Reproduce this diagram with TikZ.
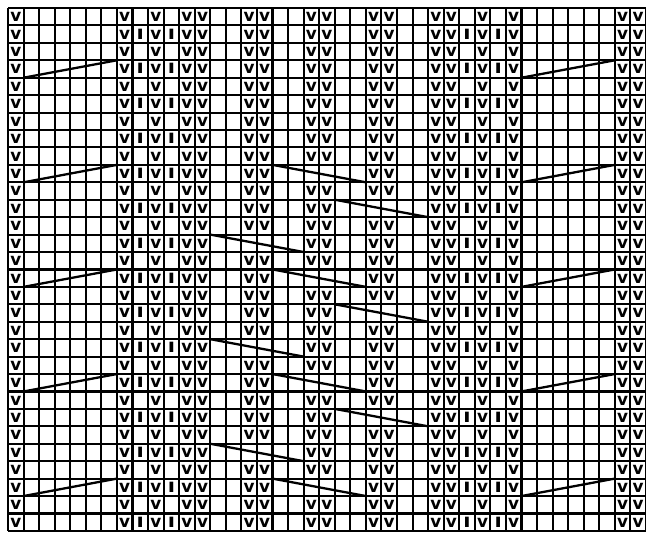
\documentclass[tikz,border=0pt]{standalone}
\usepackage{fontspec}
\setmainfont{DejaVu Sans}
\begin{document}
\begin{tikzpicture}[x=0.02cm, y=-0.02cm,
  every node/.style={font=\bfseries\fontsize{9.6}{10}\selectfont, inner sep=0pt, anchor=base},
  purl/.style={xscale=1.25, yscale=1.12},
  gridline/.style={line width=1.2pt, black},
  floatline/.style={line width=1.3pt, black}]
  \useasboundingbox (0,0) rectangle (646,534);
  \pgfmathsetmacro{\cw}{15.56}
  \pgfmathsetmacro{\rh}{17.43}
  % grid
  \foreach \c in {0,...,41}{
    \draw[gridline] ({8+\c*\cw},8) -- ({8+\c*\cw},{8+30*\rh});
  }
  \foreach \r in {0,...,30}{
    \draw[gridline] (8,{8+\r*\rh}) -- ({8+41*\cw},{8+\r*\rh});
  }
  % stitches
  \foreach \r in {1,...,30}{
    \pgfmathsetmacro{\yb}{8+\r*\rh-3.8}
    \pgfmathtruncatemacro{\pl}{mod(\r,2)==0}
    \pgfmathtruncatemacro{\skipA}{and(\r>9, mod(\r-10,6)==0)}
    \pgfmathtruncatemacro{\skipB}{and(and(\r>11,\r<25), mod(\r-12,6)==0)}
    \pgfmathtruncatemacro{\skipC}{and(and(\r>13,\r<27), mod(\r-14,6)==0)}
    \foreach \c in {1,8,10,12,13,28,29,31,33,40,41}{
      \node (s\r-\c) at ({8+(\c-0.5)*\cw},\yb) {v};
    }
    \ifnum\pl=1
      \foreach \c in {9,11,30,32}{
        \node[purl] (s\r-\c) at ({8+(\c-0.5)*\cw},\yb) {ı};
      }
    \fi
    % slipped pairs of the middle panel
    \foreach \c/\sk in {16/\skipC, 20/\skipA, 24/\skipB}{
      \ifnum\sk=0
        \pgfmathtruncatemacro{\d}{\c+1}
        \node (s\r-\c) at ({8+(\c-0.5)*\cw},\yb) {v};
        \node (s\r-\d) at ({8+(\d-0.5)*\cw},\yb) {v};
      \fi
    }
  }
  % floats at the sides
  \foreach \r in {4,10,16,22,28}{
    \coordinate (ll\r) at ({8+\cw},{8+\r*\rh});
    \coordinate (lr\r) at ({8+7*\cw},{8+(\r-1)*\rh});
    \coordinate (rl\r) at ({8+33*\cw},{8+\r*\rh});
    \coordinate (rr\r) at ({8+39*\cw},{8+(\r-1)*\rh});
    \draw[floatline] (ll\r) -- (lr\r);
    \draw[floatline] (rl\r) -- (rr\r);
  }
  % floats in the middle panel
  \foreach \r/\c in {10/17, 12/21, 14/13, 16/17, 18/21, 20/13, 22/17, 24/21, 26/13, 28/17}{
    \coordinate (ml\r) at ({8+\c*\cw},{8+(\r-1)*\rh});
    \coordinate (mr\r) at ({8+(\c+6)*\cw},{8+\r*\rh});
    \draw[floatline] (ml\r) -- (mr\r);
  }
\end{tikzpicture}
\end{document}
